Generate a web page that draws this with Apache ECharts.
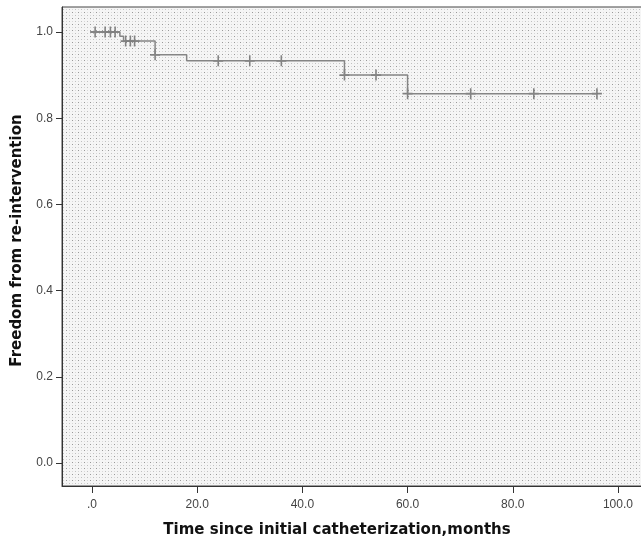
<!DOCTYPE html>
<html>
<head>
<meta charset="utf-8">
<script src="https://cdn.jsdelivr.net/npm/echarts@6/dist/echarts.min.js"></script>
<style>
  html, body { margin: 0; padding: 0; background: #fff; }
  #chart { width: 641px; height: 539px; }
</style>
</head>
<body>
<div id="chart"></div>
<script>
// Kaplan-Meier step points: [months, survival after event]
const kmSteps = [
  [0, 1.0], [5.3, 0.99], [6.0, 0.979], [12, 0.947], [18, 0.933],
  [48, 0.90], [60, 0.857], [96, 0.857]
]
// censored observations: [months, survival]
const censored = [
  [0.6, 1.0], [2.5, 1.0], [3.5, 1.0], [4.4, 1.0],
  [6.4, 0.979], [7.3, 0.979], [8.1, 0.979],
  [12, 0.947],
  [24, 0.933], [30, 0.933], [36, 0.933],
  [48, 0.90], [54, 0.90],
  [60, 0.857], [72, 0.857], [84, 0.857], [96, 0.857]
]
const xTicks = [0, 20, 40, 60, 80, 100]
const yTicks = [0, 0.2, 0.4, 0.6, 0.8, 1.0]

const FONT = '"Liberation Sans", Arial, sans-serif'
const TITLE_FONT = '"DejaVu Sans", Verdana, sans-serif'

// SPSS-like dotted fill for the plot area
function makeStipple() {
  const c = document.createElement('canvas')
  c.width = 6
  c.height = 6
  const ctx = c.getContext('2d')
  ctx.fillStyle = '#f5f5f5'
  ctx.fillRect(0, 0, 6, 6)
  ctx.fillStyle = '#999'
  ctx.fillRect(0, 0, 1, 1)
  ctx.fillStyle = '#c0c0c0'
  ctx.fillRect(3, 3, 1, 1)
  ctx.fillStyle = '#d8d8d8'
  ctx.fillRect(3, 0, 1, 1)
  ctx.fillRect(0, 3, 1, 1)
  return c
}

const chart = echarts.init(document.getElementById('chart'))

const plus = 'path://M0,4.2h10v1.6h-10z M4.2,0h1.6v10h-1.6z'

chart.setOption({
  animation: false,
  backgroundColor: '#fff',
  grid: {
    left: 62,
    right: -1,
    top: 7,
    bottom: 53,
    outerBoundsMode: 'none',
    containLabel: false,
    show: true,
    borderColor: '#444',
    borderWidth: 1,
    backgroundColor: { image: makeStipple(), repeat: 'repeat' }
  },
  xAxis: {
    type: 'value',
    min: -5.7,
    max: 104.57,
    name: 'Time since initial catheterization,months',
    nameLocation: 'middle',
    nameGap: 37,
    nameTextStyle: {
      fontFamily: TITLE_FONT,
      fontWeight: 'bold',
      fontSize: 15,
      color: '#111',
      padding: [0, 30, 0, 0]
    },
    axisLine: { onZero: false, lineStyle: { color: '#333', width: 1 } },
    axisTick: { show: true, length: 7, customValues: xTicks, lineStyle: { color: '#333' } },
    axisLabel: {
      customValues: xTicks,
      margin: 13,
      fontFamily: FONT,
      fontSize: 12,
      color: '#444',
      formatter: v => (v === 0 ? '.0' : v.toFixed(1))
    },
    splitLine: { show: false }
  },
  yAxis: {
    type: 'value',
    min: -0.0534,
    max: 1.058,
    name: 'Freedom from re-intervention',
    nameLocation: 'middle',
    nameGap: 37,
    nameTextStyle: {
      fontFamily: TITLE_FONT,
      fontWeight: 'bold',
      fontSize: 15,
      color: '#111',
      padding: [0, 0, 0, 12]
    },
    axisLine: { show: true, onZero: false, lineStyle: { color: '#333', width: 1 } },
    axisTick: { show: true, length: 6, customValues: yTicks, lineStyle: { color: '#333' } },
    axisLabel: {
      customValues: yTicks,
      margin: 9,
      fontFamily: FONT,
      fontSize: 12,
      color: '#444',
      formatter: v => v.toFixed(1)
    },
    splitLine: { show: false }
  },
  series: [
    {
      type: 'line',
      step: 'end',
      data: kmSteps,
      showSymbol: false,
      lineStyle: { color: '#858585', width: 1.5 },
      silent: true
    },
    {
      type: 'scatter',
      data: censored,
      symbol: plus,
      symbolSize: [10, 11],
      itemStyle: { color: '#666' },
      silent: true
    }
  ]
})
</script>
</body>
</html>
